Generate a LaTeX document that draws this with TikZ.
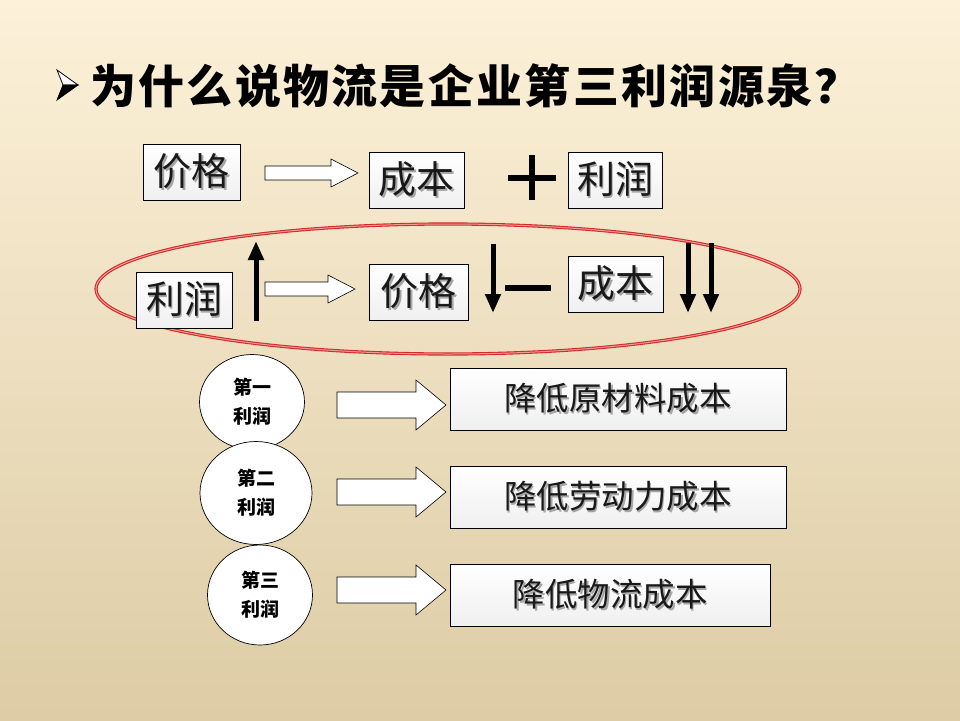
\documentclass[tikz,border=0pt]{standalone}
\usepackage{fontspec}
\usetikzlibrary{arrows.meta,shapes.geometric,calc}
\newfontfamily\cjk{Noto Sans CJK SC}
\newfontfamily\cjkbold{Noto Sans CJK SC Black}
\definecolor{bgtop}{HTML}{FCF1D9}
\definecolor{bgbot}{HTML}{DDCCA5}
\definecolor{ellred}{HTML}{D42A2A}
\definecolor{ellpink}{HTML}{F29A9A}
\newcommand\shd[1]{\rlap{\hspace{1.6pt}\raisebox{-1.6pt}{\textcolor{black!35}{#1}}}#1}
% hollow block arrow: start, end, shaft half-height, head half-height, head length
\newcommand\blockarr[5]{%
  \draw[hollow] ($(#1)+(0,-#3)$) -- ($(#2)+(-#5,-#3)$) -- ($(#2)+(-#5,-#4)$) -- (#2)
    -- ($(#2)+(-#5,#4)$) -- ($(#2)+(-#5,#3)$) -- ($(#1)+(0,#3)$) -- cycle;}
\tikzset{
  x=1pt, y=-1pt,
  box/.style={draw=black, line width=0.8pt, top color=white, bottom color=black!6,
    inner sep=0pt, font=\cjk\fontsize{38}{42}\selectfont, text=black!90},
  bigbox/.style={box, font=\cjk\fontsize{32.5}{36}\selectfont, minimum height=62pt},
  roundnode/.style={ellipse, draw=black, line width=0.7pt, fill=white, inner sep=0pt,
    align=center, font=\cjkbold\fontsize{19}{29}\selectfont},
  hollow/.style={draw=black, line width=0.6pt, fill=white, line join=miter},
  blackarrow/.style={line width=5pt, -{Triangle[width=15pt,length=19pt]}},
  thickbar/.style={line width=5.5pt}
}
\begin{document}
\begin{tikzpicture}
% background
\shade[top color=bgtop, bottom color=bgbot] (0,0) rectangle (960,720);
\useasboundingbox (0,0) rectangle (960,720);

% title bullet
\filldraw[fill=white, draw=black, line width=0.8pt] (57,70) -- (78,85) -- (63,85) -- cycle;
\filldraw[fill=black, draw=black, line width=0.8pt] (63,85) -- (78,85) -- (57,100) -- cycle;
\node[anchor=west, inner sep=0pt, font=\cjkbold\fontsize{46}{50}\selectfont\addfontfeature{LetterSpace=5}] (title) at (90,86) {为什么说物流是企业第三利润源泉？};

% top row
\node[box, minimum width=97pt, minimum height=56pt] (p1) at (191.5,172) {\shd{价格}};
\node[box, minimum width=95pt, minimum height=56pt] (c1) at (416.5,180) {\shd{成本}};
\node[box, minimum width=94pt, minimum height=56pt] (r1) at (615,180) {\shd{利润}};
\coordinate (a1s) at (265,173);
\coordinate (a1e) at (358,173);
\blockarr{a1s}{a1e}{7}{14}{27}
\coordinate (plusc) at (532,178);
\draw[thickbar] ($(plusc)+(-24,0)$) -- ($(plusc)+(24,0)$);
\draw[thickbar] ($(plusc)+(0,-23)$) -- ($(plusc)+(0,22)$);

% ellipse
\node[ellipse, draw=ellred, double=ellpink, double distance=1pt, line width=1.1pt,
      minimum width=704pt, minimum height=130pt, inner sep=0pt] (ell) at (448,289) {};

% middle row
\node[box, minimum width=96pt, minimum height=56pt] (r2) at (184,300) {\shd{利润}};
\node[box, minimum width=99pt, minimum height=56pt] (p2) at (418.5,292) {\shd{价格}};
\node[box, minimum width=95pt, minimum height=56pt] (c2) at (615.5,284) {\shd{成本}};
\coordinate (a2s) at (265,289);
\coordinate (a2e) at (355,289);
\blockarr{a2s}{a2e}{7}{14}{27}
\coordinate (up0) at (256,321);
\coordinate (up1) at (256,241);
\draw[blackarrow] (up0) -- (up1);
\coordinate (dn0) at (493,244);
\coordinate (dn1) at (493,313);
\draw[blackarrow] (dn0) -- (dn1);
\coordinate (dash0) at (505,288);
\coordinate (dash1) at (551,288);
\draw[thickbar] (dash0) -- (dash1);
\coordinate (dd0) at (688,243);
\coordinate (dd1) at (688,313);
\coordinate (de0) at (711,243);
\coordinate (de1) at (711,313);
\draw[blackarrow] (dd0) -- (dd1);
\draw[blackarrow] (de0) -- (de1);

% bottom rows
\node[roundnode, minimum width=105pt, minimum height=95pt] (n1) at (252,402) {第一\\利润};
\node[roundnode, minimum width=112pt, minimum height=103pt] (n2) at (256,493) {第二\\利润};
\node[roundnode, minimum width=105pt, minimum height=100pt] (n3) at (260,595) {第三\\利润};

\node[bigbox, minimum width=336pt] (b1) at (618,399) {\shd{降低原材料成本}};
\node[bigbox, minimum width=336pt] (b2) at (618,497) {\shd{降低劳动力成本}};
\node[bigbox, minimum width=320pt] (b3) at (610,595) {\shd{降低物流成本}};

\coordinate (h1s) at (337,405);
\coordinate (h1e) at (446,405);
\coordinate (h2s) at (337,492);
\coordinate (h2e) at (446,492);
\coordinate (h3s) at (337,590);
\coordinate (h3e) at (446,590);
\blockarr{h1s}{h1e}{13}{25}{30}
\blockarr{h2s}{h2e}{13}{25}{30}
\blockarr{h3s}{h3e}{13}{25}{30}
\end{tikzpicture}
\end{document}
